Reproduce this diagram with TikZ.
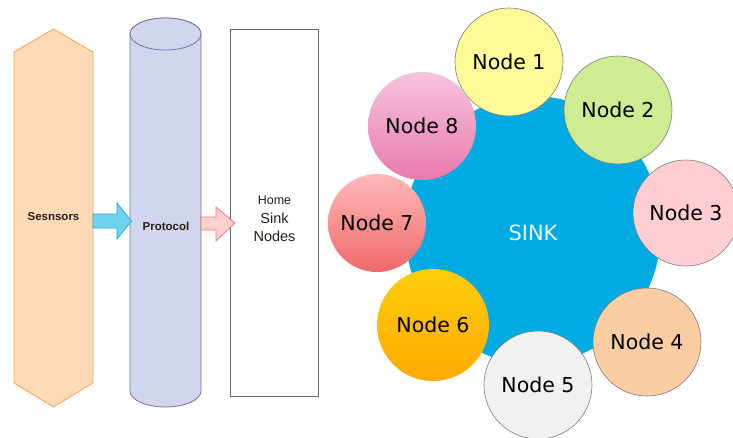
\documentclass[tikz,border=0pt]{standalone}
\usepackage{fontspec}
\setmainfont{Liberation Sans}
\newfontfamily\nodefont{DejaVu Sans}
\usetikzlibrary{shapes.geometric}
\definecolor{hexfill}{RGB}{255,218,182}
\definecolor{hexline}{RGB}{242,165,90}
\definecolor{cylfill}{RGB}{210,214,236}
\definecolor{cylline}{RGB}{112,116,172}
\definecolor{boxline}{RGB}{95,110,95}
\definecolor{barfill}{RGB}{110,212,238}
\definecolor{barline}{RGB}{30,170,212}
\definecolor{rarfill}{RGB}{255,208,204}
\definecolor{rarline}{RGB}{240,112,112}
\definecolor{sinkblue}{RGB}{0,170,226}
\definecolor{ringline}{RGB}{125,125,125}
\definecolor{cA}{RGB}{255,250,152}
\definecolor{cB}{RGB}{206,236,146}
\definecolor{cC}{RGB}{255,206,212}
\definecolor{cD}{RGB}{250,206,162}
\definecolor{cE}{RGB}{241,241,241}
\definecolor{cFt}{RGB}{255,206,10}
\definecolor{cFb}{RGB}{255,170,0}
\definecolor{cGt}{RGB}{255,186,186}
\definecolor{cGb}{RGB}{240,104,104}
\definecolor{cHt}{RGB}{246,196,220}
\definecolor{cHb}{RGB}{234,122,172}
\definecolor{txtdark}{RGB}{40,30,25}
\tikzset{
  ring/.style={circle, draw=ringline, line width=0.6pt, inner sep=0pt,
    font=\nodefont\fontsize{20.5}{24}\selectfont, text=black},
  label/.style={font=\fontsize{11.5}{14}\selectfont\bfseries, text=txtdark},
  fatarrow/.style={line width=0.7pt, line join=miter}
}
\begin{document}
\begin{tikzpicture}[x=1pt,y=1pt]
\useasboundingbox (0,0) rectangle (733,437);
% Sensors hexagon
\draw[fill=hexfill, draw=hexline, line width=0.8pt]
  (14,385) -- (53.5,408) -- (93,385) -- (93,54) -- (53.5,30) -- (14,54) -- cycle;
\node[label] (sens) at (53.5,220) {Sesnsors};
% Protocol cylinder
\draw[fill=cylfill, draw=cylline, line width=0.8pt]
  (130,403) -- (130,46) arc[start angle=180, end angle=360, x radius=35.5pt, y radius=16pt]
  -- (201,403) arc[start angle=0, end angle=180, x radius=35.5pt, y radius=16pt] -- cycle;
\draw[fill=cylfill, draw=cylline, line width=0.8pt] (165.5,403) ellipse[x radius=35.5pt, y radius=16pt];
\node[label] (prot) at (166,211) {Protocol};
% Home sink nodes box
\draw[fill=white, draw=boxline, line width=0.7pt] (230,408) rectangle (318,41);
\node[align=center, text=txtdark, inner sep=0pt, font=\fontsize{14.5}{18.5}\selectfont] (home) at (274.5,218) {%
  {\fontsize{12.5}{18.5}\selectfont Home}\\
  Sink\\
  Nodes};
% arrows
\draw[fatarrow, fill=barfill, draw=barline]
  (93,223) -- (117,223) -- (117,234) -- (131.5,216) -- (117,198) -- (117,209) -- (93,209) -- cycle;
\draw[fatarrow, fill=rarfill, draw=rarline]
  (201,220) -- (216,220) -- (216,230) -- (235,214) -- (216,196) -- (216,207) -- (201,207) -- cycle;
% sink
\fill[sinkblue] (533,207) ellipse[x radius=128pt, y radius=134pt];
\node[font=\nodefont\fontsize{21}{24}\selectfont, text={rgb,255:red,232;green,246;blue,255}] (sink) at (533,204) {SINK};
% ring nodes
\node[ring, fill=cA, minimum size=108pt] (n1) at (509,375) {Node 1};
\node[ring, fill=cB, minimum size=108pt] (n2) at (618,327) {Node 2};
\node[ring, fill=cC, minimum size=106pt] (n3) at (686,224) {Node 3};
\node[ring, fill=cD, minimum size=108pt] (n4) at (647,95) {Node 4};
\node[ring, fill=cE, minimum size=108pt] (n5) at (538,52) {Node 5};
\node[ring, top color=cFt, bottom color=cFb, draw=none, minimum size=112pt] (n6) at (433,112) {Node 6};
\node[ring, top color=cGt, bottom color=cGb, draw=none, minimum size=98pt] (n7) at (377,214) {Node 7};
\node[ring, top color=cHt, bottom color=cHb, draw=none, minimum size=108pt] (n8) at (422,311) {Node 8};
\end{tikzpicture}
\end{document}
